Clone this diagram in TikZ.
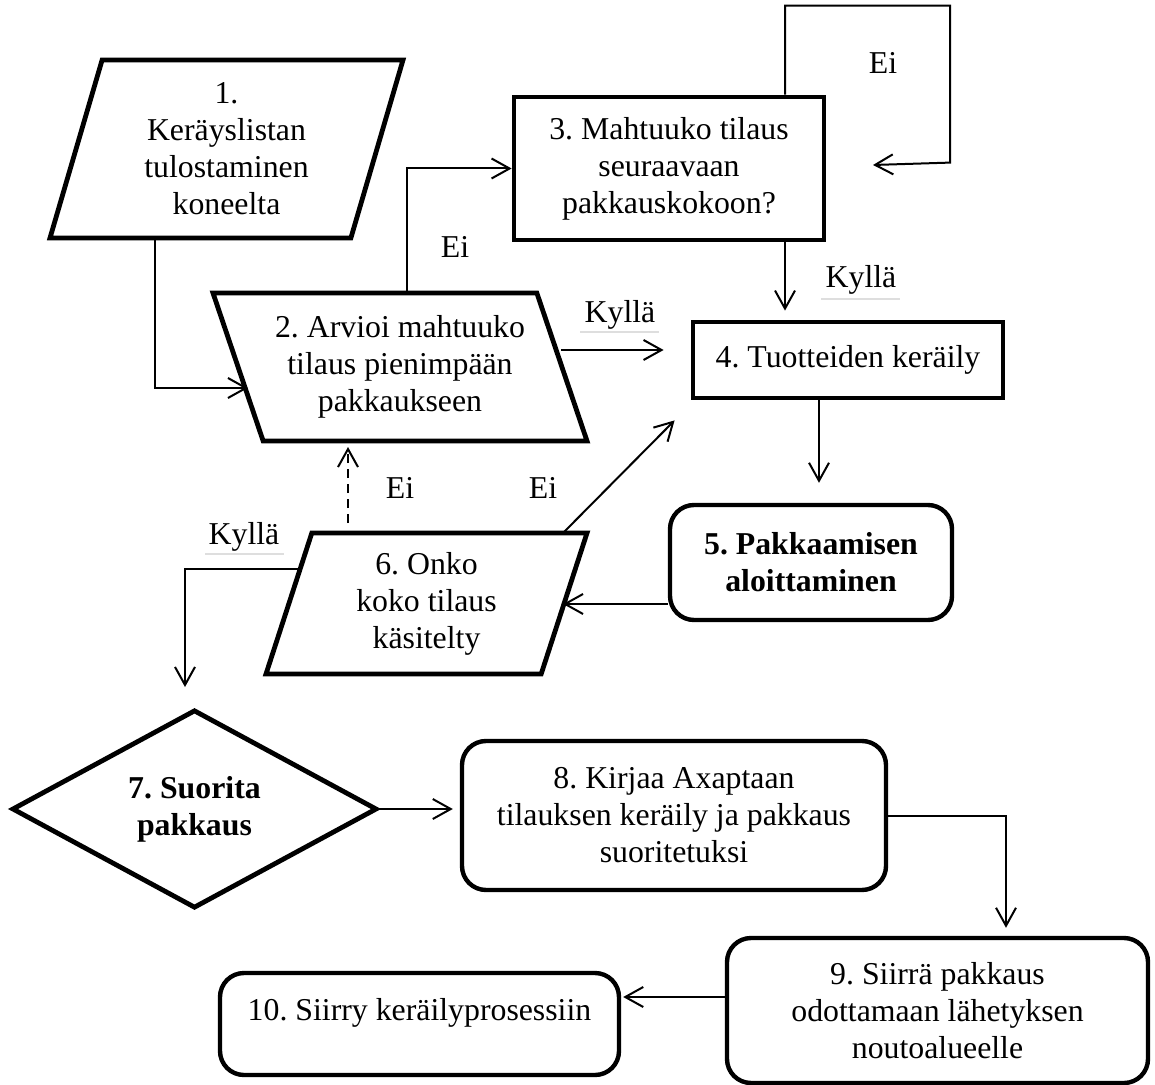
\documentclass[tikz,border=0pt]{standalone}
\usepackage{fontspec}
\setmainfont{Liberation Serif}
\usetikzlibrary{shapes.geometric,arrows.meta}
\frenchspacing
\begin{document}
\begin{tikzpicture}[x=0.5pt,y=-0.5pt,
  every node/.style={font=\fontsize{15.9}{18.5}\selectfont, align=center, inner sep=0pt},
  boldtext/.style={font=\fontsize{15.9}{18.5}\selectfont\bfseries},
  box/.style={draw, line width=2.4pt, rectangle},
  rbox/.style={draw, line width=2.2pt, rectangle, rounded corners=12pt},
  para/.style={draw, line width=2.4pt, trapezium, trapezium stretches body},
  conn/.style={line width=1pt, -{Straight Barb[length=9pt,width=10pt]}},
  dashline/.style={dash pattern=on 4.5pt off 3pt},
  faint/.style={line width=0.8pt, black!13}
]
\useasboundingbox (0,0) rectangle (1155,1085);

% process steps
\node[para, trapezium left angle=68.5, trapezium right angle=111.5,
      minimum width=176.5pt, minimum height=89pt] (n1) at (226.5,149)
      {1.\\Keräyslistan\\tulostaminen\\koneelta};
\node[para, trapezium left angle=116, trapezium right angle=64,
      minimum width=187pt, minimum height=74pt] (n2) at (400,367)
      {2. Arvioi mahtuuko\\tilaus pienimpään\\pakkaukseen};
\node[box, minimum width=155pt, minimum height=71.5pt] (n3) at (669,168.5)
      {3. Mahtuuko tilaus\\seuraavaan\\pakkauskokoon?};
\node[box, minimum width=155pt, minimum height=38pt] (n4) at (848,360)
      {4. Tuotteiden keräily};
\node[rbox, boldtext, minimum width=141pt, minimum height=57.5pt] (n5) at (811,562.5)
      {5. Pakkaamisen\\aloittaminen};
\node[para, trapezium left angle=66, trapezium right angle=114,
      minimum width=160.5pt, minimum height=70.5pt] (n6) at (426.5,603.5)
      {6. Onko\\koko tilaus\\käsitelty};
\node[diamond, draw, line width=2.4pt, boldtext, minimum width=182.5pt,
      minimum height=99pt] (n7) at (194.5,809) {7. Suorita\\pakkaus};
\node[rbox, minimum width=212pt, minimum height=74.5pt] (n8) at (674,815.5)
      {8. Kirjaa Axaptaan\\tilauksen keräily ja pakkaus\\suoritetuksi};
\node[rbox, minimum width=210.5pt, minimum height=72.5pt] (n9) at (937.5,1010.5)
      {9. Siirrä pakkaus\\odottamaan lähetyksen\\noutoalueelle};
\node[rbox, minimum width=199.5pt, minimum height=51pt, text depth=14.5pt] (n10) at (419.5,1024)
      {10. Siirry keräilyprosessiin};

% free ends of connectors
\coordinate (loopend) at (873,165);
\coordinate (yesend) at (185,687);

% connectors
\draw[conn] ([xshift=-35.75pt,yshift=-44.5pt]n1.center) |- ([xshift=-76pt,yshift=-10.5pt]n2.center);
\draw[conn] ([xshift=3.5pt,yshift=37pt]n2.center) |- (n3.west);
\draw[conn] ([xshift=58pt]n3.north) -- ++(0,-89) -- ++(165,0) -- ++(0,157) -- (loopend);
\draw[conn, shorten >=4.5pt] ([xshift=58pt]n3.south) -- ([xshift=-31.5pt]n4.north);
\draw[conn, shorten >=13.5pt] ([xshift=80.5pt,yshift=8.5pt]n2.center) -- ([yshift=5pt]n4.west);
\draw[conn, shorten >=10pt] ([xshift=-14.5pt]n4.south) -- ([xshift=-14.5pt]n4.south |- n5.north);
\draw[conn] (n5.west |- 0,604) -- ([xshift=68.25pt,yshift=-0.25pt]n6.center);
\draw[conn, dashline] ([xshift=-39.25pt,yshift=40.25pt]n6.center) -- ([xshift=-26pt,yshift=-40pt]n2.center);
\draw[conn] ([xshift=68.25pt,yshift=35.25pt]n6.center) -- ([xshift=-8pt,yshift=-10pt]n4.south west);
\draw[conn] ([xshift=-62.25pt,yshift=17.25pt]n6.center) -| (yesend);
\draw[conn, shorten >=3.5pt] (n7.east) -- (n7.east -| n8.west);
\draw[conn, shorten >=4pt] (n8.east) -| ([xshift=34.25pt]n9.north);
\draw[conn, shorten >=1pt] ([yshift=6.75pt]n9.west) -- ([yshift=6.75pt]n9.west -| n10.east);

% branch labels
\node (e1) at (455,247) {Ei};
\node (e2) at (883,63) {Ei};
\node (k1) at (861,280) {Kyllä};
\node (k2) at (620,315) {Kyllä};
\node (e3) at (400,488) {Ei};
\node (e4) at (543,488) {Ei};
\node (k3) at (244,537) {Kyllä};
\draw[faint] ([xshift=-20pt,yshift=-9.5pt]k1.center) -- ++(79,0);
\draw[faint] ([xshift=-20pt,yshift=-8.5pt]k2.center) -- ++(79,0);
\draw[faint] ([xshift=-19.5pt,yshift=-8.5pt]k3.center) -- ++(79,0);
\end{tikzpicture}
\end{document}
